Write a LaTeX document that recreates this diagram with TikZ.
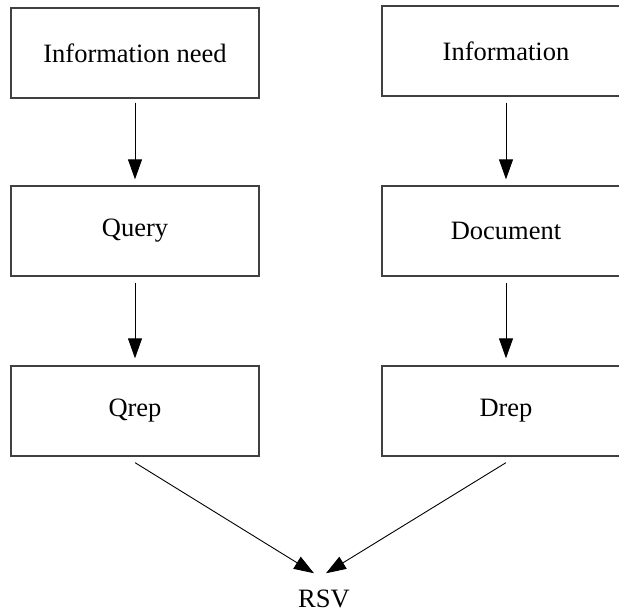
\documentclass[tikz,border=0pt]{standalone}
\usepackage{fontspec}
\setmainfont{Liberation Serif}
\usetikzlibrary{arrows.meta}

\begin{document}
\begin{tikzpicture}[x=1pt,y=-1pt,
    box/.style={draw=black!75,line width=1.3pt,minimum width=248pt,minimum height=90pt,inner sep=0pt},
    arr/.style={-{Triangle[length=20pt,width=14pt]},line width=0.9pt},
    every node/.style={font=\fontsize{26.5}{32}\selectfont}]
            \clip (0,0) rectangle (619,612);
            \node[box] (need) at (135,53) {Information need};
            \node[box] (query) at (135,231) {Query};
            \node[box] (qrep) at (135,411) {Qrep};
            \node[box] (info) at (506,51) {Information};
            \node[box] (doc) at (506,231) {Document};
            \node[box] (drep) at (506,411) {Drep};
            \node[inner sep=0pt,anchor=base] (rsv) at (324,607) {RSV};
            \draw[arr,shorten <=4pt,shorten >=6pt] (need) -- (query);
            \draw[arr,shorten <=6pt,shorten >=7pt] (query) -- (qrep);
            \draw[arr,shorten <=6pt,shorten >=6pt] (info) -- (doc);
            \draw[arr,shorten <=6pt,shorten >=7pt] (doc) -- (drep);
            \draw[arr] ([yshift=-6pt]qrep.south) -- ([xshift=-10pt,yshift=16pt]rsv.north);
            \draw[arr] ([yshift=-6pt]drep.south) -- ([xshift=2pt,yshift=16pt]rsv.north);
        \end{tikzpicture}
\end{document}
